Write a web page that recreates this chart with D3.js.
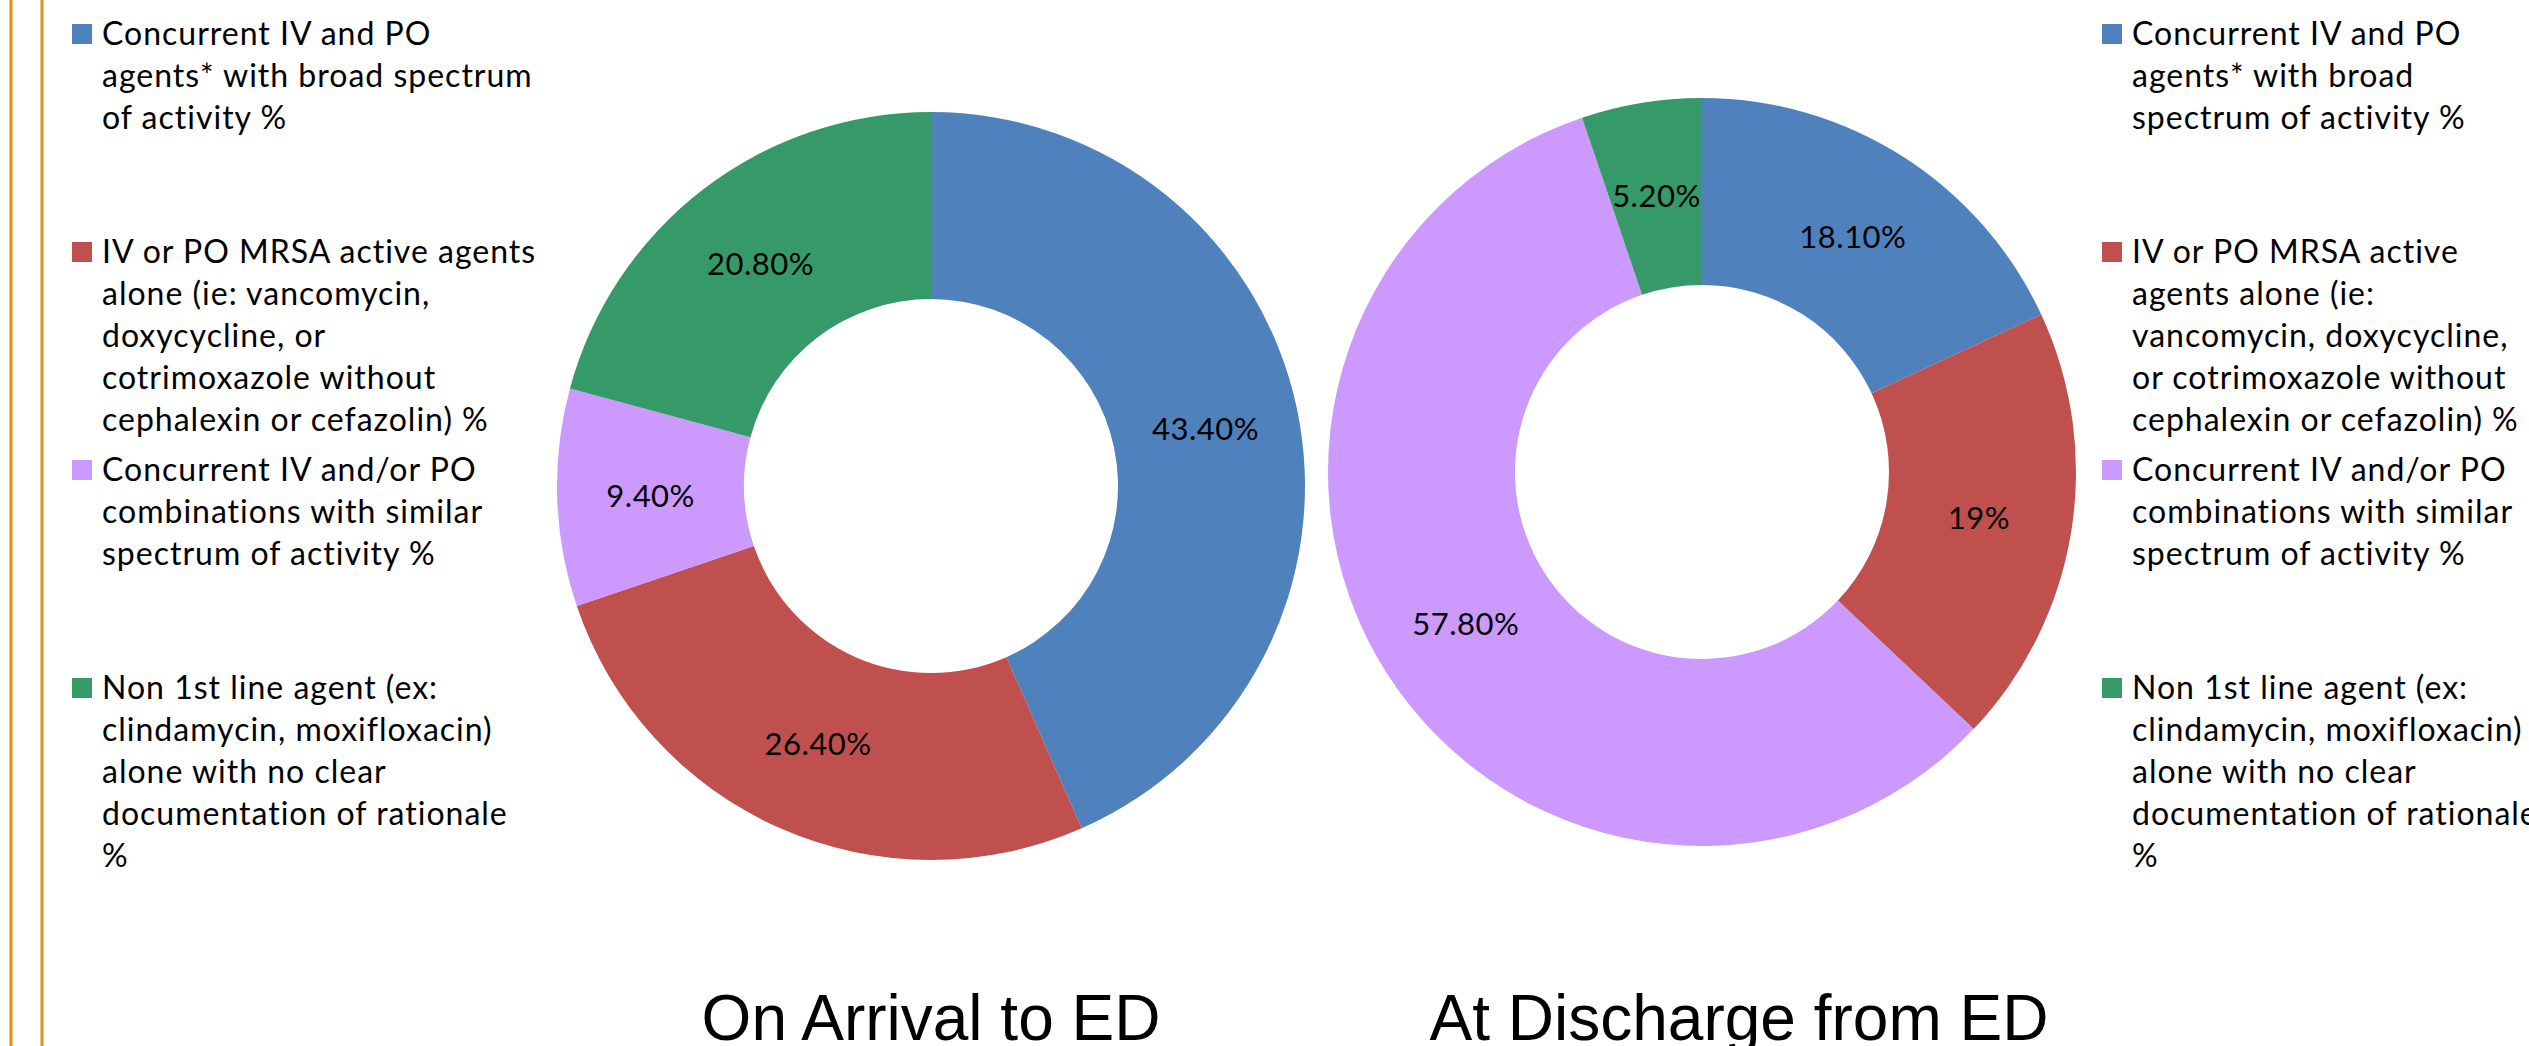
<!DOCTYPE html>
<html>
<head>
<meta charset="utf-8">
<script src="https://cdn.jsdelivr.net/npm/d3@7"></script>
<style>
  html, body { margin: 0; padding: 0; background: #ffffff; }
  svg { display: block; }
</style>
</head>
<body>
<svg id="chart" width="2529" height="1046"></svg>
<script>
// Antibiotic regimen categories (same order in both doughnuts and legends)
const categories = [
  "Concurrent IV and PO agents* with broad spectrum of activity %",
  "IV or PO MRSA active agents alone (ie: vancomycin, doxycycline, or cotrimoxazole without cephalexin or cefazolin) %",
  "Concurrent IV and/or PO combinations with similar spectrum of activity %",
  "Non 1st line agent (ex: clindamycin, moxifloxacin) alone with no clear documentation of rationale %"
];
const seriesColors = ["#4F81BD", "#C0504D", "#CC99FF", "#359A68"];

// Share of patients (%) per category
const arrivalValues   = [43.4, 26.4, 9.4, 20.8];
const dischargeValues = [18.1, 19, 57.8, 5.2];
const arrivalLabels   = ["43.40%", "26.40%", "9.40%", "20.80%"];
const dischargeLabels = ["18.10%", "19%", "57.80%", "5.20%"];

const chartTitles = ["On Arrival to ED", "At Discharge from ED"];

// Legend text, wrapped as in each legend box
const leftLegendLines = [
  ["Concurrent IV and PO", "agents* with broad spectrum", "of activity %"],
  ["IV or PO MRSA active agents", "alone (ie: vancomycin,", "doxycycline, or", "cotrimoxazole without", "cephalexin or cefazolin) %"],
  ["Concurrent IV and/or PO", "combinations with similar", "spectrum of activity %"],
  ["Non 1st line agent (ex:", "clindamycin, moxifloxacin)", "alone with no clear", "documentation of rationale", "%"]
];
const rightLegendLines = [
  ["Concurrent IV and PO", "agents* with broad", "spectrum of activity %"],
  ["IV or PO MRSA active", "agents alone (ie:", "vancomycin, doxycycline,", "or cotrimoxazole without", "cephalexin or cefazolin) %"],
  ["Concurrent IV and/or PO", "combinations with similar", "spectrum of activity %"],
  ["Non 1st line agent (ex:", "clindamycin, moxifloxacin)", "alone with no clear", "documentation of rationale", "%"]
];

const svg = d3.select("#chart");
const W = 2529, H = 1046;

// Slide frame lines on the left edge
svg.selectAll("line.frame")
  .data([11, 42])
  .join("line")
  .attr("class", "frame")
  .attr("x1", d => d).attr("x2", d => d)
  .attr("y1", 0).attr("y2", H)
  .attr("stroke", "#E6901C")
  .attr("stroke-width", 3);

const color = d3.scaleOrdinal().domain(d3.range(categories.length)).range(seriesColors);

const pie = d3.pie().sort(null).value(d => d.value);
const outerR = 374, innerR = 187;
const arc = d3.arc().innerRadius(innerR).outerRadius(outerR);

function drawDoughnut(cx, cy, values, labels) {
  const data = values.map((v, i) => ({ index: i, value: v, label: labels[i] }));
  const g = svg.append("g").attr("transform", `translate(${cx},${cy})`);
  const arcs = pie(data);
  g.selectAll("path")
    .data(arcs)
    .join("path")
    .attr("d", arc)
    .attr("fill", d => color(d.data.index));
  g.selectAll("text")
    .data(arcs)
    .join("text")
    .attr("transform", d => `translate(${arc.centroid(d)})`)
    .attr("text-anchor", "middle")
    .attr("dominant-baseline", "central")
    .attr("font-family", "Lato, 'Open Sans', sans-serif")
    .attr("font-size", 31)
    .attr("letter-spacing", 0.5)
    .attr("fill", "#000")
    .text(d => d.data.label);
}

drawDoughnut(931, 486, arrivalValues, arrivalLabels);
drawDoughnut(1702, 472, dischargeValues, dischargeLabels);

// Legends
const lineH = 42;
const firstBaselines = d3.range(4).map(i => 45 + i * 218);

function drawLegend(x, lines) {
  const g = svg.append("g").attr("transform", `translate(${x},0)`);
  const items = g.selectAll("g.item")
    .data(lines)
    .join("g")
    .attr("class", "item")
    .attr("transform", (d, i) => `translate(0,${firstBaselines[i]})`);
  items.append("rect")
    .attr("x", 0).attr("y", -21)
    .attr("width", 20).attr("height", 20)
    .attr("fill", (d, i) => color(i));
  items.append("text")
    .attr("font-family", "Lato, 'Open Sans', sans-serif")
    .attr("font-size", 32)
    .attr("letter-spacing", 1.0)
    .attr("fill", "#000")
    .selectAll("tspan")
    .data(d => d)
    .join("tspan")
    .attr("x", 30)
    .attr("y", (d, j) => j * lineH)
    .text(d => d);
}

drawLegend(72, leftLegendLines);
drawLegend(2102, rightLegendLines);

// Chart titles under each doughnut
svg.selectAll("text.title")
  .data(chartTitles)
  .join("text")
  .attr("class", "title")
  .attr("x", (d, i) => [931, 1739][i])
  .attr("y", 1040)
  .attr("text-anchor", "middle")
  .attr("font-family", "'Liberation Sans', Arial, sans-serif")
  .attr("font-size", 64)
  .attr("fill", "#000")
  .text(d => d);
</script>
</body>
</html>
